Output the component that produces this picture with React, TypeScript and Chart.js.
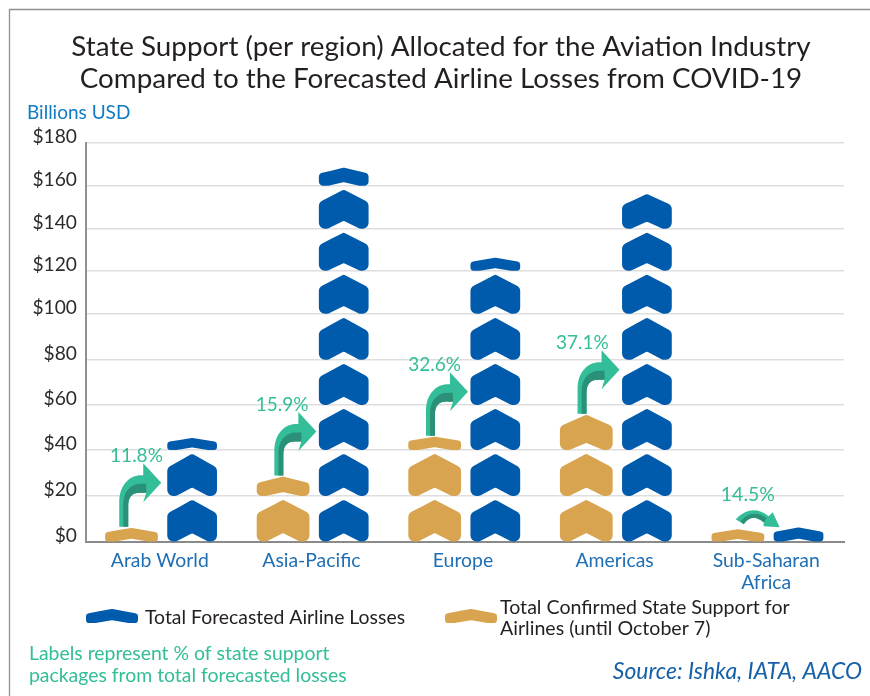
import React, { useEffect, useRef } from "react";
import { Chart, registerables, LinearScale } from "chart.js";

const categories: (string | string[])[] = ["Arab World", "Asia-Pacific", "Europe", "Americas", ["Sub-Saharan", "Africa"]];
const forecastedLosses = [45.3, 168.5, 126.2, 156.2, 6.2];
const stateSupport = [6, 28.4, 45.9, 55.6, 5.4];
const percentLabels = ["11.8%", "15.9%", "32.6%", "37.1%", "14.5%"];
const yMax = 180;
const yStep = 20;
// The source's hand-placed gridlines are not evenly spaced: share of the axis height at each $20 step.
const axisShares = [0, 0.1143, 0.2298, 0.3428, 0.4558, 0.5713, 0.6796, 0.7851, 0.8925, 1];

const BLUE = "#005BAC";
const GOLD = "#D9A44F";
const GREEN = "#33BD98";
const DARK_GREEN = "#2A9078";
const FONT = "Lato";

class HandPlacedScale extends LinearScale {
  static id = "handPlaced";
  static defaults = (LinearScale as any).defaults;
  getPixelForValue(value: number) {
    const v = Math.max(0, Math.min(yMax, value)) / yStep;
    const i = Math.min(axisShares.length - 2, Math.floor(v));
    const d = axisShares[i] + (axisShares[i + 1] - axisShares[i]) * (v - i);
    return (this as any).getPixelForDecimal(d);
  }
  getValueForPixel(pixel: number) {
    const d = (this as any).getDecimalForPixel(pixel);
    let i = 0;
    while (i < axisShares.length - 2 && d > axisShares[i + 1]) i++;
    return (i + (d - axisShares[i]) / (axisShares[i + 1] - axisShares[i])) * yStep;
  }
}

Chart.register(...registerables, HandPlacedScale as any);

function chevron(ctx: CanvasRenderingContext2D, cx: number, bottom: number, w: number, h: number, color: string) {
  const l = cx - w / 2;
  const t = bottom - h;
  const P = (u: number, v: number): [number, number] => [l + u * w, t + v * h];
  const r = Math.min(6, h * 0.24);
  const pts: [number, number][] = [
    P(0.5, 0),
    P(1, 0.33),
    P(1, 1),
    P(0.82, 1),
    P(0.5, 0.8),
    P(0.18, 1),
    P(0, 1),
    P(0, 0.33),
  ];
  const radii = [3, r, r, r, 2, r, r, r];
  ctx.beginPath();
  const first = [(pts[7][0] + pts[0][0]) / 2, (pts[7][1] + pts[0][1]) / 2];
  ctx.moveTo(first[0], first[1]);
  for (let i = 0; i < pts.length; i++) {
    const a = pts[i];
    const b = pts[(i + 1) % pts.length];
    ctx.arcTo(a[0], a[1], b[0], b[1], radii[i]);
  }
  ctx.closePath();
  ctx.fillStyle = color;
  ctx.fill();
}

function bentArrow(ctx: CanvasRenderingContext2D, tipX: number, tailBottom: number) {
  const x0 = tipX - 42;
  const w = 9;
  const tipY = tailBottom - 44;
  const xh = tipX - 18;
  const yTop = tipY - 7.5;
  const yBot = tipY + 10;
  ctx.beginPath();
  ctx.moveTo(x0, tailBottom);
  ctx.lineTo(x0, yTop + 27);
  ctx.bezierCurveTo(x0, yTop + 10, x0 + 10, yTop, x0 + 22, yTop);
  ctx.lineTo(xh, yTop);
  ctx.lineTo(xh, tipY - 19.5);
  ctx.lineTo(tipX, tipY);
  ctx.lineTo(xh, tipY + 19.5);
  ctx.lineTo(xh + 3, yBot);
  ctx.lineTo(xh - 1, yBot);
  ctx.bezierCurveTo(x0 + w + 5, yBot - 1, x0 + w, yBot + 3, x0 + w, yBot + 13);
  ctx.lineTo(x0 + w, tailBottom);
  ctx.closePath();
  ctx.fillStyle = GREEN;
  ctx.fill();
  ctx.beginPath();
  ctx.moveTo(x0 + w * 0.45, tailBottom);
  ctx.lineTo(x0 + w * 0.45, yBot + 12);
  ctx.bezierCurveTo(x0 + w * 0.45, tipY + 9, x0 + 11, tipY + 1, x0 + 22, tipY + 1);
  ctx.lineTo(xh + 3, tipY + 1);
  ctx.lineTo(xh + 3, yBot);
  ctx.lineTo(xh - 1, yBot);
  ctx.bezierCurveTo(x0 + w + 5, yBot - 1, x0 + w, yBot + 3, x0 + w, yBot + 13);
  ctx.lineTo(x0 + w, tailBottom);
  ctx.closePath();
  ctx.fillStyle = DARK_GREEN;
  ctx.fill();
}

function smallArrow(ctx: CanvasRenderingContext2D, tipX: number, tipY: number) {
  ctx.beginPath();
  ctx.moveTo(tipX - 44, tipY - 8);
  ctx.quadraticCurveTo(tipX - 28, tipY - 24, tipX - 11, tipY - 11);
  ctx.lineTo(tipX - 7, tipY - 15);
  ctx.lineTo(tipX, tipY);
  ctx.lineTo(tipX - 16, tipY - 1);
  ctx.lineTo(tipX - 16, tipY - 5);
  ctx.quadraticCurveTo(tipX - 28, tipY - 15, tipX - 36, tipY - 3);
  ctx.closePath();
  ctx.fillStyle = GREEN;
  ctx.fill();
  ctx.beginPath();
  ctx.moveTo(tipX - 39, tipY - 6);
  ctx.quadraticCurveTo(tipX - 27, tipY - 19, tipX - 13, tipY - 9);
  ctx.lineTo(tipX - 16, tipY - 5);
  ctx.quadraticCurveTo(tipX - 28, tipY - 15, tipX - 36, tipY - 3);
  ctx.closePath();
  ctx.fillStyle = DARK_GREEN;
  ctx.fill();
}

const text = (
  ctx: CanvasRenderingContext2D,
  s: string,
  x: number,
  y: number,
  font: string,
  color: string,
  align: CanvasTextAlign = "left",
) => {
  ctx.font = font;
  ctx.fillStyle = color;
  ctx.textAlign = align;
  ctx.textBaseline = "middle";
  ctx.fillText(s, x, y);
};

const chevronBars = {
  id: "chevronBars",
  afterLayout(chart: any) {
    // the source's title is centred slightly right of the plot
    if (chart.titleBlock) {
      chart.titleBlock.left += 19;
      chart.titleBlock.right += 19;
    }
  },
  afterDatasetsDraw(chart: any) {
    const { ctx, scales } = chart;
    const y = scales.y;
    ctx.save();
    chart.data.datasets.forEach((ds: any, di: number) => {
      const meta = chart.getDatasetMeta(di);
      meta.data.forEach((bar: any, i: number) => {
        const value = ds.data[i];
        for (let k = 0; k * yStep < value; k++) {
          const bottom = y.getPixelForValue(k * yStep);
          const full = y.getPixelForValue((k + 1) * yStep);
          const top = y.getPixelForValue(Math.min(value, (k + 1) * yStep));
          const h = Math.min(bottom - top, bottom - full - 3.8);
          chevron(ctx, bar.x, bottom, bar.width, h, ds.chevronColor);
        }
      });
    });
    const gold = chart.getDatasetMeta(0).data;
    const blue = chart.getDatasetMeta(1).data;
    const labelNudge = [5, -1, 0, -4];
    gold.forEach((g: any, i: number) => {
      const b = blue[i];
      const left = b.x - b.width / 2;
      if (i < 4) {
        bentArrow(ctx, left - (i === 0 ? 6 : 2.5), g.y - 1);
        text(ctx, percentLabels[i], g.x + labelNudge[i], g.y - 72, `19px ${FONT}`, GREEN, "center");
      } else {
        smallArrow(ctx, left + 6, g.y - 2);
        text(ctx, percentLabels[i], g.x + 10, g.y - 34, `19.5px ${FONT}`, GREEN, "center");
      }
    });
    // frame and labels around the plot
    ctx.strokeStyle = "#8C9196";
    ctx.lineWidth = 1.3;
    ctx.beginPath();
    ctx.moveTo(9.5, 696);
    ctx.lineTo(9.5, 9.5);
    ctx.lineTo(870, 9.5);
    ctx.stroke();
    text(ctx, "Billions USD", 27, 113, `19px ${FONT}`, "#0F7CC4");
    chevron(ctx, 112, 623, 52, 14, BLUE);
    text(ctx, "Total Forecasted Airline Losses", 145, 618, `19.4px ${FONT}`, "#231F20");
    chevron(ctx, 471, 623, 52, 14, GOLD);
    text(ctx, "Total Confirmed State Support for", 500, 608, `19.6px ${FONT}`, "#231F20");
    text(ctx, "Airlines (until October 7)", 500, 629, `19.6px ${FONT}`, "#231F20");
    text(ctx, "Labels represent % of state support", 29, 654, `19.4px ${FONT}`, GREEN);
    text(ctx, "packages from total forecasted losses", 29, 676, `19.4px ${FONT}`, GREEN);
    text(ctx, "Source: Ishka, IATA, AACO", 862, 672, `italic 22.9px ${FONT}`, "#1560A8", "right");
    ctx.restore();
  },
};

export default function App() {
  const ref = useRef<HTMLCanvasElement>(null);
  useEffect(() => {
    document.body.style.margin = "0";
    const chart = new Chart(ref.current!, {
      type: "bar",
      data: {
        labels: categories as any,
        datasets: [
          {
            label: "Total Confirmed State Support for Airlines (until October 7)",
            data: stateSupport,
            backgroundColor: "rgba(0,0,0,0)",
            chevronColor: GOLD,
            barPercentage: 0.87,
          } as any,
          {
            label: "Total Forecasted Airline Losses",
            data: forecastedLosses,
            backgroundColor: "rgba(0,0,0,0)",
            chevronColor: BLUE,
            barPercentage: 0.82,
          } as any,
        ],
      },
      options: {
        responsive: false,
        animation: false,
        devicePixelRatio: 1,
        layout: { padding: { left: 0, right: 26, top: 0, bottom: 0 } },
        plugins: {
          legend: { display: false },
          tooltip: { enabled: false },
          title: {
            display: true,
            text: [
              "State Support (per region) Allocated for the Aviation Industry",
              "Compared to the Forecasted Airline Losses from COVID-19",
            ],
            color: "#231F20",
            font: { family: FONT, size: 27.8, weight: "normal", lineHeight: 32 / 27.8 },
            padding: { top: 31, bottom: 48 },
          },
        },
        scales: {
          x: {
            type: "category",
            offset: true,
            grid: { display: false },
            border: { display: true, color: "#8A8A8A", width: 2 },
            categoryPercentage: 0.805,
            afterFit(s: any) {
              s.height = 696 - 541.5;
            },
            ticks: {
              color: "#1F6FB5",
              padding: 0,
              labelOffset: -2,
              maxRotation: 0,
              autoSkip: false,
              font: { family: FONT, size: 19.4, lineHeight: 22 / 19.4 },
            },
          } as any,
          y: {
            type: "handPlaced",
            min: 0,
            max: yMax,
            grid: { color: "#DEDEDE", lineWidth: 1.5, drawTicks: false },
            border: { display: true, color: "#8F8F98", width: 2 },
            afterFit(s: any) {
              s.width = 86;
            },
            ticks: {
              stepSize: yStep,
              color: "#2B2B2B",
              padding: 9,
              font: { family: FONT, size: 19.2, lineHeight: 12 / 19.2 },
              callback: (v: any) => ["$" + v, ""],
            },
          } as any,
        },
      },
      plugins: [chevronBars],
    } as any);
    return () => chart.destroy();
  }, []);
  return (
    <div style={{ width: 870, height: 696, position: "relative", background: "#fff" }}>
      <canvas ref={ref} width={870} height={696} style={{ display: "block" }} />
    </div>
  );
}
